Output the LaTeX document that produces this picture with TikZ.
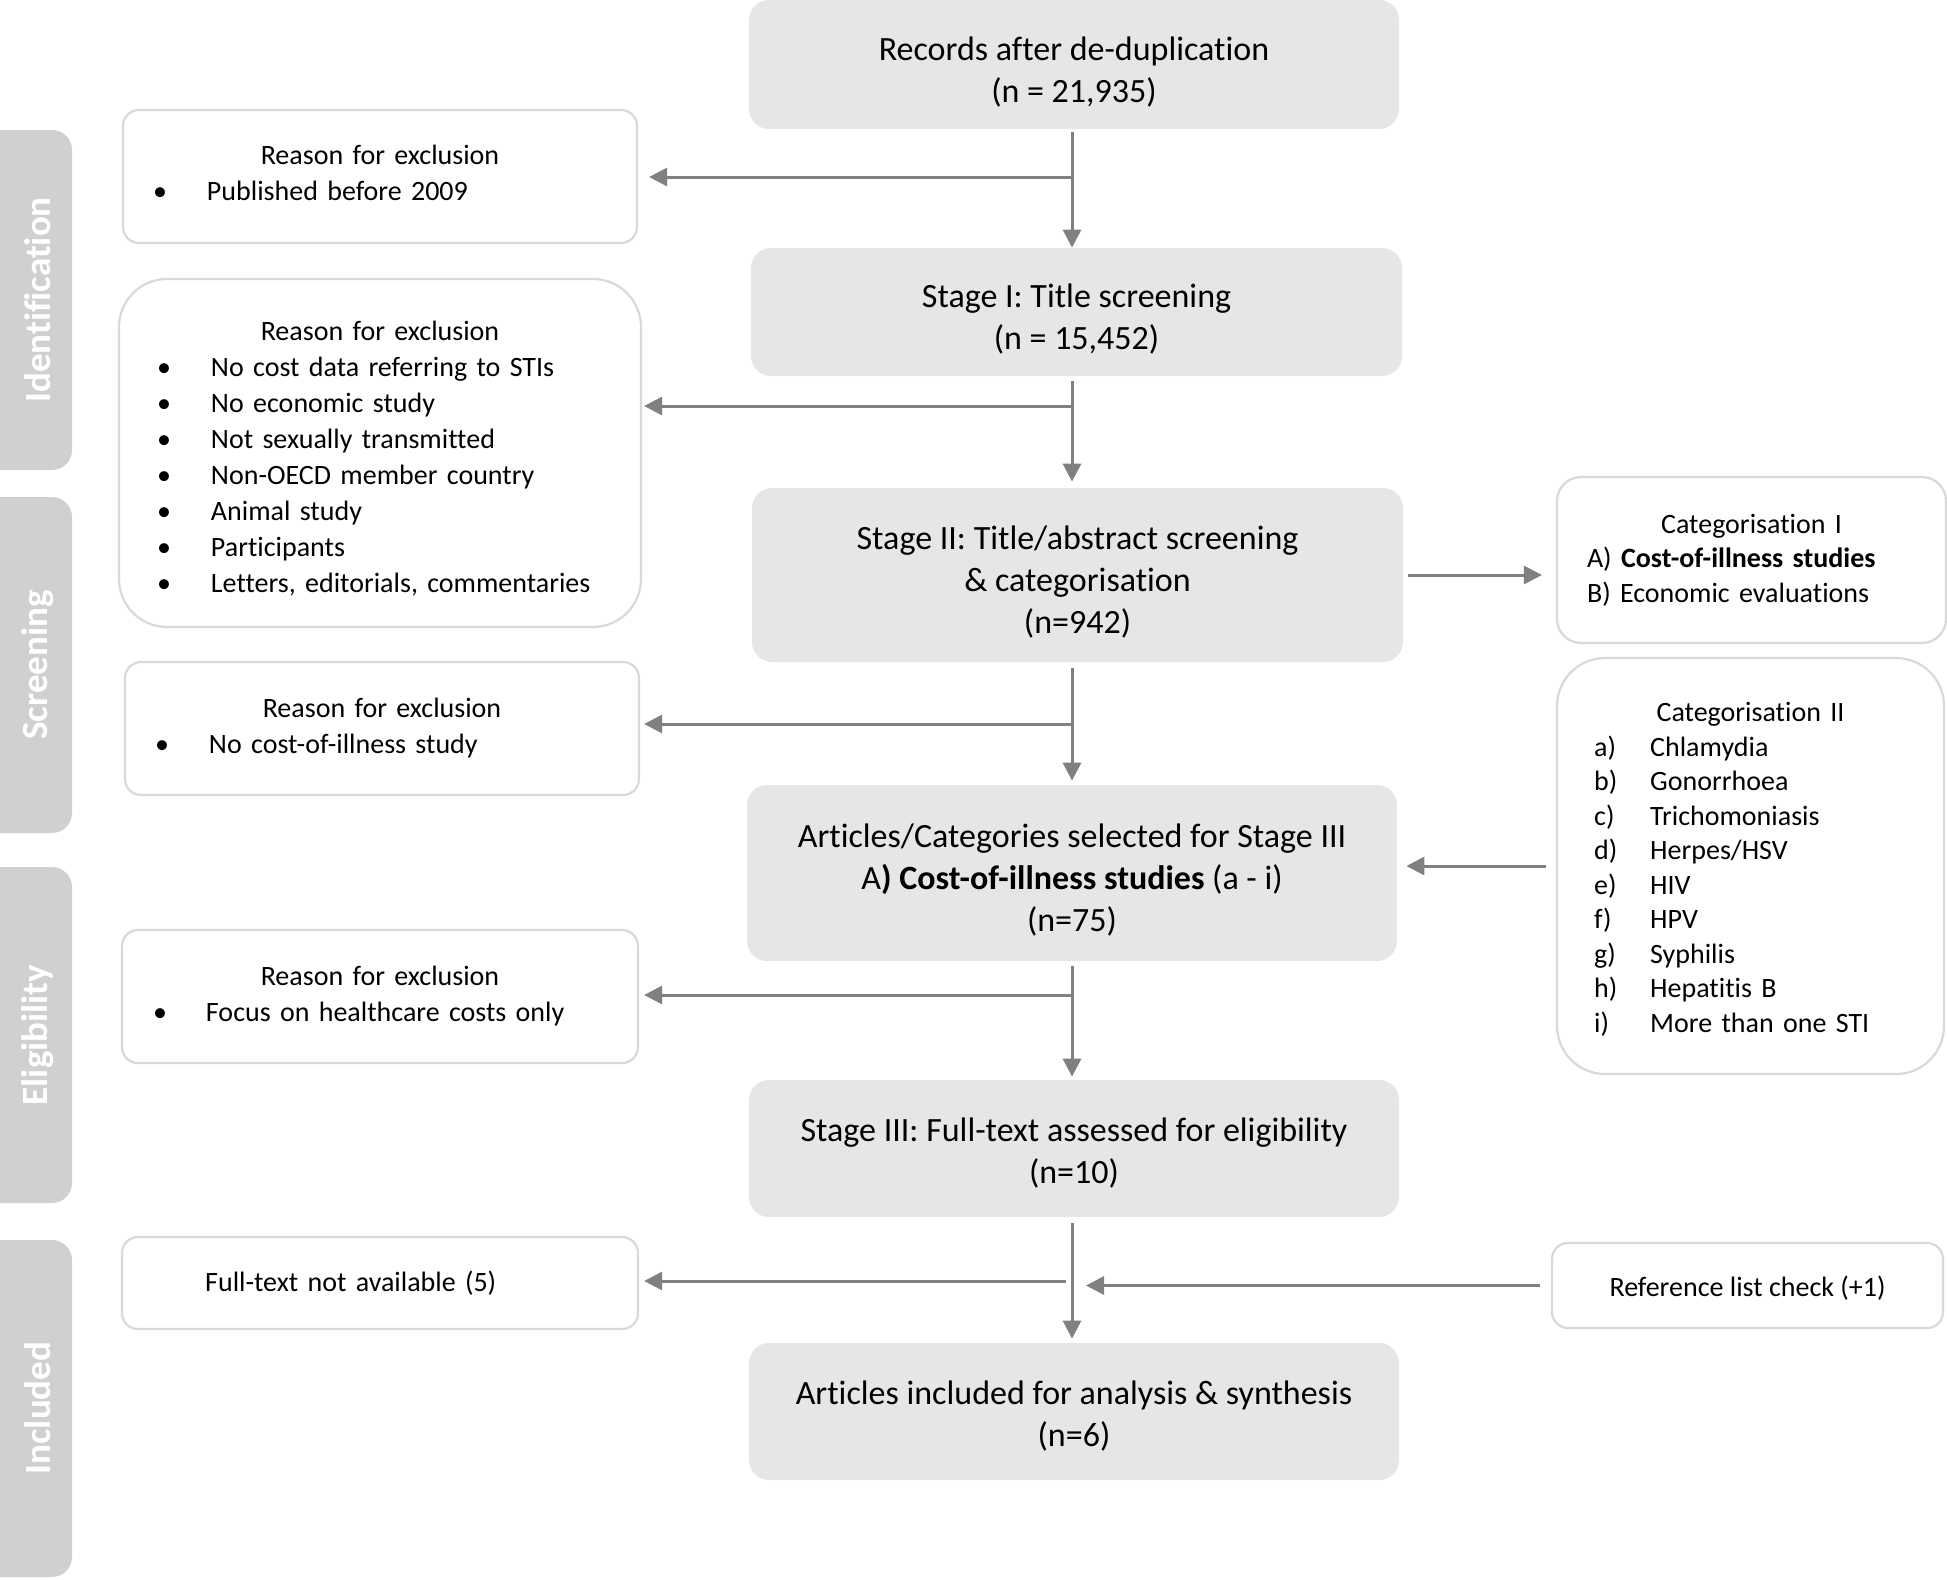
\documentclass[tikz,border=0pt]{standalone}
\usepackage{fontspec}
\setmainfont{Carlito}[Ligatures={NoCommon,NoContextual}]
\usetikzlibrary{arrows.meta}
\definecolor{boxfill}{HTML}{E6E6E6}
\definecolor{sidefill}{HTML}{D0D0D0}
\definecolor{bordergray}{HTML}{D9D9D9}
\definecolor{arrgray}{HTML}{808080}
\newcommand\exitem[3]{\par\noindent\hspace*{#1}\makebox[#2][l]{\textbullet}#3}
\newcommand\catitem[2]{\par\noindent\hspace*{18.6pt}\makebox[28pt][l]{#1}#2}
\newcommand\tstrut{\rule{0pt}{19pt}}
\newcommand\sstrut{\rule{0pt}{16pt}}
\begin{document}
\begin{tikzpicture}[x=0.5pt,y=-0.5pt,
 mainbox/.style={fill=boxfill, rounded corners=10pt, inner sep=0pt, align=center, font=\fontsize{17}{21}\selectfont},
 exbox/.style={draw=bordergray, line width=1.1pt, fill=white, rounded corners=8pt, inner sep=0pt, font=\fontsize{14}{18}\selectfont},
 bigex/.style={exbox, rounded corners=24pt},
 arr/.style={draw=arrgray, line width=1.5pt, -{Triangle[length=9pt,width=9pt]}},
 sidetext/.style={rotate=90, text=white, font=\fontsize{18.5}{22}\selectfont\bfseries},
]
\useasboundingbox (0,0) rectangle (1947,1579);

% side labels
\fill[sidefill, rounded corners=10pt] (-30,130) rectangle (72,470);
\node[sidetext] (sid) at (38,300) {Identification};
\fill[sidefill, rounded corners=10pt] (-30,497) rectangle (72,833);
\node[sidetext] (sscr) at (38,665) {Screening};
\fill[sidefill, rounded corners=10pt] (-30,867) rectangle (72,1203);
\node[sidetext] (selig) at (38,1035) {Eligibility};
\fill[sidefill, rounded corners=10pt] (-30,1240) rectangle (72,1577);
\node[sidetext] (sinc) at (38,1408) {Included};

% main boxes
\node[mainbox, minimum width=325pt, minimum height=64.5pt] (rec) at (1074,64.5) {\tstrut Records after de-duplication\\(n = 21,935)};
\node[mainbox, minimum width=325.5pt, minimum height=64pt] (s1) at (1076.5,312) {\tstrut Stage I: Title screening\\(n = 15,452)};
\node[mainbox, minimum width=325.5pt, minimum height=87pt] (s2) at (1077.5,575) {\tstrut Stage II: Title/abstract screening\\\& categorisation\\(n=942)};
\node[mainbox, minimum width=325pt, minimum height=88pt] (art) at (1072,873) {\tstrut Articles/Categories selected for Stage III\\A\textbf{) Cost-of-illness studies} (a - i)\\(n=75)};
\node[mainbox, minimum width=325pt, minimum height=68.5pt] (s3) at (1074,1148.5) {\sstrut Stage III: Full-text assessed for eligibility\\(n=10)};
\node[mainbox, minimum width=325pt, minimum height=68.5pt] (inc) at (1074,1411.5) {\sstrut Articles included for analysis \& synthesis\\(n=6)};

% exclusion boxes
\node[exbox, minimum width=257pt, minimum height=66.5pt, text width=257pt] (ex1) at (380,176.5)
 {{\centering Reason for exclusion\par}\exitem{15pt}{27pt}{Published before 2009\rule[-3.7pt]{0pt}{0pt}}};
\node[bigex, minimum width=261pt, minimum height=174pt, text width=261pt] (ex2) at (380,453)
 {{\centering\rule{0pt}{15pt}Reason for exclusion\par}%
 \exitem{19pt}{27pt}{No cost data referring to STIs}%
 \exitem{19pt}{27pt}{No economic study}%
 \exitem{19pt}{27pt}{Not sexually transmitted}%
 \exitem{19pt}{27pt}{Non-OECD member country}%
 \exitem{19pt}{27pt}{Animal study}%
 \exitem{19pt}{27pt}{Participants}%
 \exitem{19pt}{27pt}{Letters, editorials, commentaries}};
\node[exbox, minimum width=257pt, minimum height=66.5pt, text width=257pt] (ex3) at (382,728.5)
 {{\centering Reason for exclusion\par}\exitem{15pt}{27pt}{No cost-of-illness study}};
\node[exbox, minimum width=258pt, minimum height=66.5pt, text width=258pt] (ex4) at (380,996.5)
 {{\centering Reason for exclusion\par}\exitem{15.5pt}{26.5pt}{Focus on healthcare costs only}};
\node[exbox, minimum width=258pt, minimum height=46pt, text width=258pt] (ex5) at (380,1283)
 {\noindent\hspace*{41.6pt}Full-text not available (5)};

% right boxes
\node[exbox, rounded corners=12pt, minimum width=194.5pt, minimum height=83pt, text width=194.5pt, font=\fontsize{14}{17.3}\selectfont] (cat1) at (1751.5,560)
 {{\centering Categorisation I\par}%
 \noindent\hspace*{15pt}A) \textbf{Cost-of-illness studies}\par
 \noindent\hspace*{15pt}B) Economic evaluations};
\node[bigex, minimum width=193.5pt, minimum height=208pt, text width=193.5pt, font=\fontsize{14}{17.25}\selectfont] (cat2) at (1750.5,866)
 {{\centering\rule{0pt}{13pt}Categorisation II\par}%
 \catitem{a)}{Chlamydia}%
 \catitem{b)}{Gonorrhoea}%
 \catitem{c)}{Trichomoniasis}%
 \catitem{d)}{Herpes/HSV}%
 \catitem{e)}{HIV}%
 \catitem{f)}{HPV}%
 \catitem{g)}{Syphilis}%
 \catitem{h)}{Hepatitis B}%
 \catitem{i)}{More than one STI}};
\node[exbox, minimum width=195.5pt, minimum height=42.5pt] (ref) at (1747.5,1285.5) {\rule{0pt}{12.5pt}Reference list check (+1)};

% spine coordinates
\coordinate (vx) at (1072,0);
\coordinate (b1) at (1072,177);
\coordinate (b2) at (1072,406);
\coordinate (b3) at (1072,724);
\coordinate (b4) at (1072,995);
\coordinate (b5) at (1072,1281);

% vertical arrows
\draw[arr, shorten <=1.5pt] (rec.south -| vx) -- (s1.north -| vx);
\draw[arr, shorten <=2.5pt, shorten >=3pt] (s1.south -| vx) -- (s2.north -| vx);
\draw[arr, shorten <=3pt, shorten >=2pt] (s2.south -| vx) -- (art.north -| vx);
\draw[arr, shorten <=2.5pt, shorten >=1.5pt] (art.south -| vx) -- (s3.north -| vx);
\draw[arr, shorten <=3pt, shorten >=2pt] (s3.south -| vx) -- (inc.north -| vx);

% branches to exclusions
\draw[arr, shorten >=5.5pt] (b1) -- (b1 -| ex1.east);
\draw[arr, shorten >=1pt] (b2) -- (b2 -| ex2.east);
\draw[arr, shorten >=2pt] (b3) -- (b3 -| ex3.east);
\draw[arr, shorten >=2.5pt] (b4) -- (b4 -| ex4.east);
\draw[arr, shorten <=3pt, shorten >=2.5pt] (b5) -- (b5 -| ex5.east);

% right side arrows
\draw[arr, shorten <=2.5pt, shorten >=7pt] (s2.east) -- (s2.east -| cat1.west);
\draw[arr, shorten <=5pt, shorten >=4.5pt] (cat2.west) -- (cat2.west -| art.east);
\draw[arr, shorten <=5.5pt, shorten >=7pt] (ref.west) -- (ref.west -| vx);
\end{tikzpicture}
\end{document}
